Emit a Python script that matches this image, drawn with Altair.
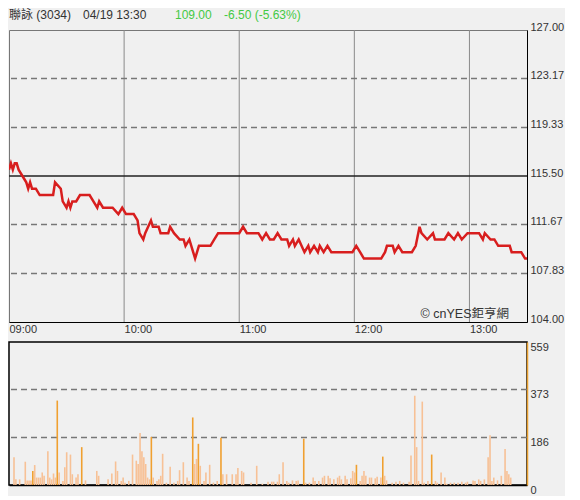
import altair as alt
import pandas as pd

# ---------------- data ----------------
price_minutes = [0, 1, 2, 3, 4, 5, 7, 9, 10, 11, 12, 14, 16, 23, 24, 27, 28, 30, 31, 32, 33, 35, 37, 42,
                 44, 46, 47, 49, 54, 57, 59, 61, 65, 67, 68, 70, 71, 74, 75, 78, 79, 83, 84, 86, 89, 91,
                 92, 94, 96, 97, 99, 105, 107, 109, 120, 122, 124, 130, 132, 134, 136, 138, 140, 142, 145,
                 146, 148, 149, 151, 154, 156, 157, 159, 161, 162, 164, 166, 168, 179, 181, 183, 185, 194,
                 196, 197, 200, 201, 203, 205, 210, 212, 214, 215, 218, 221, 222, 227, 229, 232, 234, 236,
                 239, 245, 247, 248, 251, 253, 255, 261, 262, 267, 269, 270]
prices = [116.0, 116.5, 116.0, 116.5, 116.5, 116.0, 115.5, 115.0, 114.5, 115.0, 114.5, 114.5, 114.0, 114.0,
          115.0, 114.5, 113.5, 113.0, 113.5, 113.0, 113.5, 113.5, 114.0, 114.0, 113.5, 113.0, 113.5, 113.0,
          113.0, 112.5, 113.0, 112.5, 112.5, 112.0, 111.0, 110.5, 111.0, 112.0, 111.5, 111.5, 111.0, 111.0,
          111.5, 111.0, 110.5, 110.5, 110.0, 110.5, 109.5, 109.0, 110.0, 110.0, 110.5, 111.0, 111.0, 111.5,
          111.0, 111.0, 110.5, 111.0, 110.5, 110.5, 111.0, 110.5, 110.5, 110.0, 110.5, 110.0, 110.5, 109.5,
          110.0, 109.5, 110.0, 109.5, 110.0, 109.5, 110.0, 109.5, 109.5, 110.0, 109.5, 109.0, 109.0, 109.5,
          110.0, 110.0, 109.5, 110.0, 109.5, 109.5, 110.0, 111.5, 111.0, 110.5, 111.0, 110.5, 110.5, 111.0,
          110.5, 111.0, 110.5, 111.0, 111.0, 110.5, 111.0, 110.5, 110.5, 110.0, 110.0, 109.5, 109.5, 109.0,
          109.0]

vol_minutes = [0, 1, 3, 6, 7, 8, 9, 10, 11, 12, 13, 14, 15, 16, 18, 19, 20, 21, 22, 23, 24, 26, 27, 28, 30,
               31, 33, 34, 36, 38, 44, 45, 50, 52, 54, 55, 57, 58, 59, 61, 63, 65, 66, 67, 68, 69, 70, 71,
               72, 73, 74, 76, 77, 78, 79, 81, 83, 85, 87, 88, 90, 92, 93, 95, 96, 97, 98, 99, 101, 102,
               104, 106, 108, 110, 111, 113, 116, 118, 119, 121, 122, 126, 129, 132, 135, 137, 138, 140,
               141, 143, 145, 146, 148, 150, 151, 154, 155, 157, 159, 160, 162, 164, 165, 167, 168, 170,
               172, 173, 174, 176, 177, 179, 180, 181, 182, 184, 185, 186, 187, 189, 190, 192, 193, 195,
               196, 197, 198, 201, 203, 205, 207, 210, 211, 213, 214, 215, 217, 218, 220, 222, 224, 225,
               227, 229, 230, 232, 234, 236, 238, 240, 241, 244, 245, 247, 248, 250, 252, 253, 254, 255,
               257, 259, 261, 262, 263, 264]
volumes = [108, 22, 22, 91, 18, 18, 18, 55, 78, 29, 29, 29, 49, 36, 132, 29, 22, 45, 29, 330, 49, 16, 69,
           128, 119, 42, 29, 42, 148, 18, 55, 36, 22, 45, 92, 55, 16, 29, 9, 16, 119, 95, 82, 203, 132, 108,
           82, 29, 22, 188, 29, 16, 22, 36, 122, 9, 71, 9, 16, 58, 89, 29, 16, 264, 82, 102, 161, 75, 16, 49,
           79, 9, 16, 185, 42, 42, 42, 42, 66, 55, 49, 9, 75, 5, 13, 13, 13, 13, 42, 89, 16, 9, 18, 16, 18,
           181, 9, 9, 29, 16, 16, 29, 36, 36, 26, 22, 29, 36, 22, 36, 22, 26, 55, 49, 79, 16, 36, 55, 36, 29,
           29, 26, 32, 29, 111, 36, 18, 9, 13, 16, 9, 13, 115, 349, 148, 16, 326, 9, 16, 119, 16, 9, 49, 29,
           5, 9, 9, 9, 13, 9, 13, 18, 16, 22, 16, 22, 108, 194, 16, 29, 18, 36, 141, 55, 42, 29]
dark_minutes = [10, 23, 36, 73, 95, 98, 110, 154, 182, 196, 222]

hour_ticks = [0, 60, 120, 180, 240]
hour_labels = ["09:00", "10:00", "11:00", "12:00", "13:00"]
price_ticks = [104.00, 107.83, 111.67, 115.50, 119.33, 123.17, 127.00]
price_grid = [107.83, 111.67, 119.33, 123.17]
prev_close = [115.50]
vol_ticks = [0, 186, 373, 559]
vol_grid = [186, 373]

header_name = "聯詠 (3034)"
header_time = "04/19 13:30"
header_price = "109.00"
header_change = "-6.50 (-5.63%)"
watermark = "© cnYES鉅亨網"

# ---------------- layout ----------------
W = 518
H1 = 292
H2 = 143
FONT = "Liberation Sans"
CJK = "Liberation Sans, Noto Sans CJK TC"

price_df = pd.DataFrame({"m": price_minutes, "p": prices})
vol_df = pd.DataFrame({"m": vol_minutes, "v": volumes})
vol_df["dark"] = vol_df["m"].isin(dark_minutes)

xs = alt.Scale(domain=[0, 270], nice=False, zero=False)
ys = alt.Scale(domain=[104, 127], nice=False, zero=False)
vs = alt.Scale(domain=[0, 559], nice=False)

label_expr = "[" + ",".join("'%s'" % s for s in hour_labels) + "][floor(datum.value/60)]"

x_axis_top = alt.Axis(values=hour_ticks, labelExpr=label_expr, labelAlign="left", labelPadding=1,
                      labelFontSize=11, labelColor="#333", labelFont=FONT, ticks=False, grid=False,
                      domainColor="#000", domainWidth=1, title=None, labelFlush=False)
y_axis_top = alt.Axis(orient="right", values=price_ticks, format=".2f", labelFontSize=11,
                      labelColor="#333", labelFont=FONT, ticks=False, grid=False, domainColor="#000",
                      domainWidth=1, title=None, labelPadding=3, labelOffset=-3, labelFlush=False)

vgrid = alt.Chart(pd.DataFrame({"m": hour_ticks[1:]})).mark_rule(
    color="#8a8a8a", strokeWidth=1, clip=True).encode(
    x=alt.X("m:Q", scale=xs, axis=x_axis_top)
)
hgrid = alt.Chart(pd.DataFrame({"p": price_grid})).mark_rule(
    color="#777", strokeWidth=1.5, strokeDash=[6, 4], clip=True).encode(
    y=alt.Y("p:Q", scale=ys, axis=y_axis_top)
)
prev_rule = alt.Chart(pd.DataFrame({"p": prev_close})).mark_rule(
    color="#222", strokeWidth=1.5, clip=True).encode(
    y=alt.Y("p:Q", scale=ys)
)
line = alt.Chart(price_df).mark_line(color="#d81e1e", strokeWidth=2.5, clip=True).encode(
    x=alt.X("m:Q", scale=xs), y=alt.Y("p:Q", scale=ys)
)
wm = alt.Chart(pd.DataFrame({"t": [watermark]})).mark_text(
    align="right", baseline="middle", fontSize=12.5, color="#333", font=CJK).encode(
    text="t:N", x=alt.value(W - 18), y=alt.value(H1 - 8)
)


def header(txt, xpos, color):
    return alt.Chart(pd.DataFrame({"t": [txt]})).mark_text(
        align="left", baseline="middle", fontSize=12, color=color, font=CJK).encode(
        text="t:N", x=alt.value(xpos), y=alt.value(-15)
    )


h1 = header(header_name, 0, "#333")
h2 = header(header_time, 74, "#333")
h3 = header(header_price, 166, "#44c944")
h4 = header(header_change, 215, "#44c944")

top = alt.layer(vgrid, hgrid, prev_rule, line, wm, h1, h2, h3, h4).properties(
    width=W, height=H1, view=alt.ViewBackground(stroke="#777", strokeWidth=1)
)

x_axis_bot = alt.Axis(labels=False, ticks=False, grid=False, domainColor="#000", domainWidth=1.5, title=None)
y_axis_bot = alt.Axis(orient="right", values=vol_ticks, labelBaseline="top", labelFontSize=11,
                      labelColor="#333", labelFont=FONT, ticks=False, grid=False, domainColor="#e8a030",
                      domainWidth=1.5, title=None, labelPadding=3, labelFlush=False, labelOffset=-1)

vgrid2 = alt.Chart(pd.DataFrame({"v": vol_grid})).mark_rule(
    color="#777", strokeWidth=1.5, strokeDash=[6, 4], clip=True).encode(
    y=alt.Y("v:Q", scale=vs, axis=y_axis_bot)
)
bars = alt.Chart(vol_df).mark_bar(size=1.6, clip=True).encode(
    x=alt.X("m:Q", scale=xs, axis=x_axis_bot),
    y=alt.Y("v:Q", scale=vs),
    color=alt.condition("datum.dark", alt.value("#f0a030"), alt.value("#f7c196")),
)
bottom = alt.layer(vgrid2, bars).properties(
    width=W, height=H2, view=alt.ViewBackground(stroke="#000", strokeWidth=1.5)
)

chart = alt.vconcat(top, bottom, spacing=5).properties(
    padding={"left": 0, "top": 0, "right": 0, "bottom": 0}
).configure(background="#f0f0f0", font=FONT).configure_view(fill="#f0f0f0")

chart.save("out.html", embed_options={"renderer": "svg", "actions": False})
